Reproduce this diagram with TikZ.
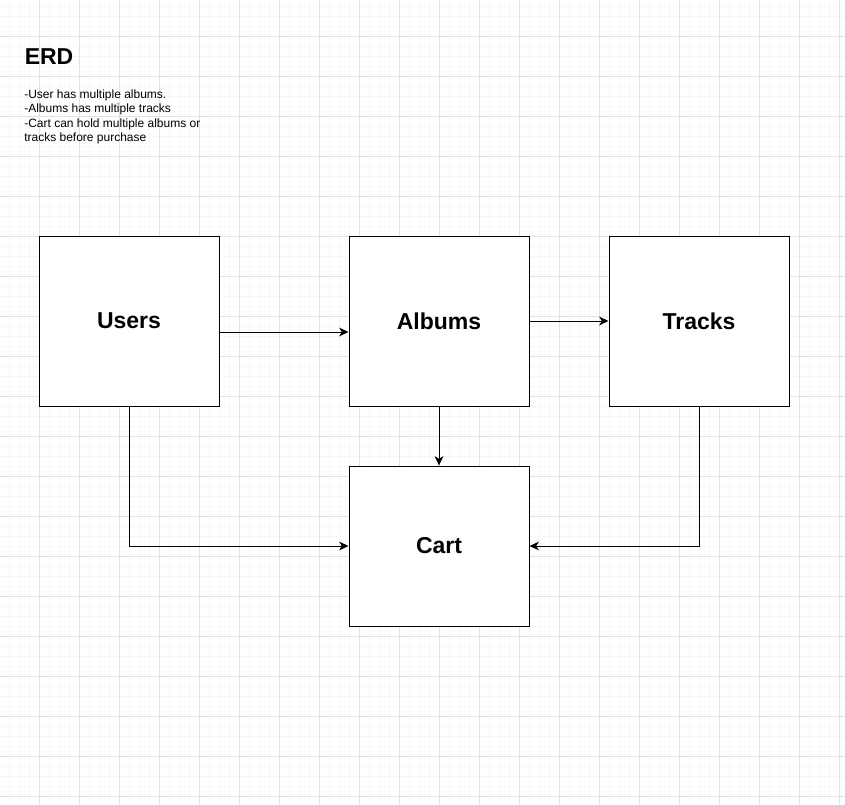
\documentclass[tikz,border=0pt]{standalone}
\usepackage{fontspec}
\setmainfont{Liberation Sans}
\usetikzlibrary{arrows.meta}
\definecolor{minorgrid}{HTML}{F7F7F7}
\definecolor{majorgrid}{HTML}{E2E2E2}
\tikzset{
  entity/.style={draw=black, line width=0.75pt, fill=white, minimum width=135pt, minimum height=127.5pt, inner sep=0pt, font=\fontsize{17.25}{20}\selectfont\bfseries},
  conn/.style={draw=black, line width=0.75pt, -{Stealth[length=7pt,width=6.5pt,inset=2pt]}},
}
\begin{document}
\begin{tikzpicture}[x=0.75pt,y=-0.75pt]
\useasboundingbox (0,0) rectangle (845,804);
\fill[white] (0,0) rectangle (845,804);
% minor grid
\foreach \i in {0,...,84} {\draw[minorgrid, line width=0.75pt] ({9+10*\i},0) -- ({9+10*\i},804);}
\foreach \j in {0,...,79} {\draw[minorgrid, line width=0.75pt] (0,{6+10*\j}) -- (845,{6+10*\j});}
% major grid
\foreach \i in {-1,...,20} {\draw[majorgrid, line width=0.75pt] ({39+40*\i},0) -- ({39+40*\i},804);}
\foreach \j in {-1,...,19} {\draw[majorgrid, line width=0.75pt] (0,{36+40*\j}) -- (845,{36+40*\j});}

% title and notes
\node[anchor=base west, inner sep=0pt, font=\fontsize{17.25}{20}\selectfont\bfseries] (title) at (24.5,64) {ERD};
\node[anchor=north west, inner sep=0pt, align=left, font=\fontsize{9}{10.8}\selectfont] (notes) at (24,89.5)
  {-User has multiple albums.\\-Albums has multiple tracks\\-Cart can hold multiple albums or\\tracks before purchase};

% entities
\node[entity] (users) at (129,321) {Users};
\node[entity] (albums) at (439,321) {Albums};
\node[entity] (tracks) at (699,321) {Tracks};
\node[entity, minimum height=120pt] (cart) at (439,546) {Cart};

% connectors
\draw[conn] (users.east |- 0,332) -- (albums.west |- 0,332);
\draw[conn] (albums.east) -- (tracks.west);
\draw[conn] (albums.south) -- (cart.north);
\draw[conn] (users.south) |- (cart.west);
\draw[conn] (tracks.south) |- (cart.east);
\end{tikzpicture}
\end{document}
